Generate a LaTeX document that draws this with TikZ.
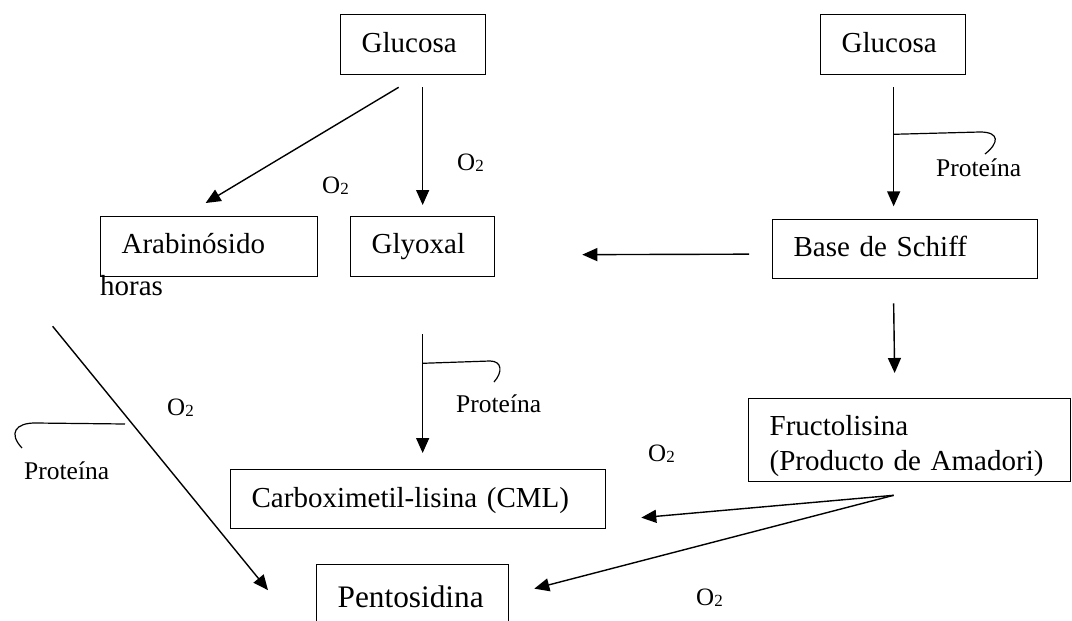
\documentclass[tikz,border=0pt]{standalone}
\usepackage{fontspec}
\setmainfont{Liberation Serif}
\usetikzlibrary{arrows.meta,calc}
% O with a small, slightly lowered 2
\newcommand{\oxy}{O\raisebox{-1pt}{\fontsize{17}{17}\selectfont 2}}
\begin{document}
\begin{tikzpicture}[x=1pt,y=-1pt,
  box/.style={draw,line width=1.3pt,anchor=north west,inner xsep=21pt,inner ysep=0pt,
              align=left,font=\fontsize{29}{35}\selectfont},
  conn/.style={line width=1.4pt,-{Triangle[length=15pt,width=13pt]}},
  hook/.style={line width=1.2pt},
  lbl/.style={anchor=base west,inner sep=0pt},
  oxlbl/.style={lbl,font=\fontsize{25}{25}\selectfont},
  prot/.style={lbl,font=\fontsize{25.5}{25.5}\selectfont}]

\useasboundingbox (0,0) rectangle (1072,621);
\clip (0,0) rectangle (1072,621);

% compounds
\node[box,text width=103pt,text height=38pt,text depth=22pt] (gl) at (340,14) {Glucosa};
\node[box,text width=103pt,text height=38pt,text depth=22pt] (gr) at (820,14) {Glucosa};
\node[box,text width=175pt,text height=37pt,text depth=23pt] (ar) at (100,216) {Arabinósido};
\node[box,text width=102pt,text height=37pt,text depth=23pt] (gy) at (350,216) {Glyoxal};
\node[box,text width=223pt,text height=37pt,text depth=22pt] (sc) at (772,219) {Base de Schiff};
\node[box,text width=280pt,text height=37pt,text depth=46pt] (fr) at (748,398) {Fructolisina\\(Producto de Amadori)};
\node[box,text width=333pt,text height=38pt,text depth=21pt] (cm) at (230,469) {Carboximetil-lisina (CML)};
\node[box,text width=150pt,text height=43pt,text depth=20pt,font=\fontsize{31.3}{36}\selectfont] (pe) at (316,564) {Pentosidina};

% reaction arrows
\draw[conn] ($(gl.south)+(-14.5,12)$) -- ($(ar.north)+(-3.5,-13)$);
\draw[conn] ($(gl.south)+(9.5,12)$) -- ($(gy.north)+(0,-11)$);
\coordinate (grtop) at ($(gr.south)+(0.5,12)$);
\coordinate (grhook) at ($(gr.south)+(0.5,59)$);
\draw[conn] (grtop) -- ($(gr.south)+(0.5,131)$);
\draw[conn] ($(sc.west)+(-23,5)$) -- ($(gy.east)+(87,8)$);
\draw[conn] ($(sc.south)+(-11.5,24)$) -- ($(fr.north)+(-15,-25)$);
\coordinate (gyhook) at ($(gy.south)+(0,86)$);
\draw[conn] ($(gy.south)+(0,57)$) -- ($(cm.north)+(4.5,-16)$);
\draw[conn] ($(ar.south)+(-156.5,49)$) -- ($(pe.west)+(-48,-6)$);
\coordinate (frout) at ($(fr.south)+(-16,13)$);
\draw[conn] (frout) -- ($(cm.east)+(35,18.5)$);
\draw[conn] (frout) -- ($(pe.east)+(25,-7.5)$);

% protein hooks
\draw[hook] (grhook) -- (980,132) .. controls (1000,132) and (999,143) .. (985,154);
\draw[hook] (gyhook) -- (490,361) .. controls (502,361) and (503,372) .. (494,382);
\coordinate (arhook) at (125,424);
\draw[hook] (arhook) -- (35,423) .. controls (16,423) and (8,433) .. (22,448);

% labels
\node[oxlbl] (o1) at (457,170) {\oxy};
\node[oxlbl] (o2) at (322,193) {\oxy};
\node[oxlbl] (o3) at (167,415) {\oxy};
\node[oxlbl] (o4) at (648,461) {\oxy};
\node[oxlbl] (o5) at (696,605) {\oxy};
\node[prot] (p1) at (936,176) {Proteína};
\node[prot] (p2) at (456,412) {Proteína};
\node[prot] (p3) at (24,479) {Proteína};
\node[lbl,font=\fontsize{29}{35}\selectfont] (hr) at (100,295) {horas};
\end{tikzpicture}
\end{document}
